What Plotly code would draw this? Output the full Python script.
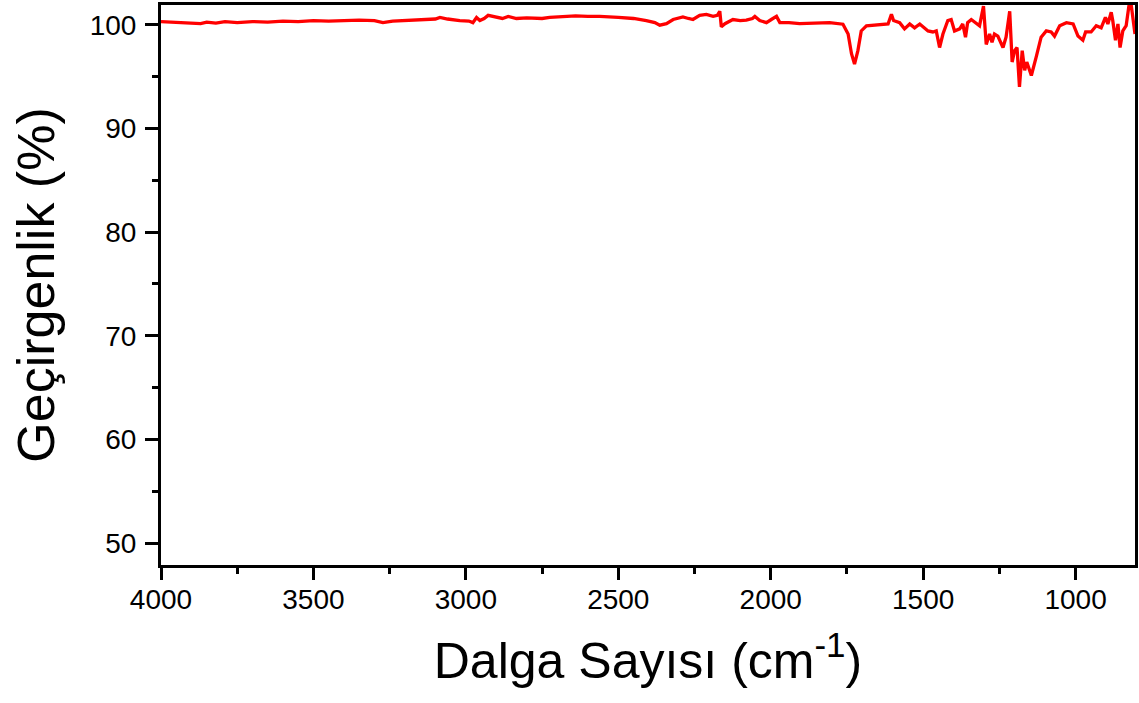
import plotly.graph_objects as go

wavenumber = [
    4000, 3950, 3900, 3870, 3850, 3820, 3790, 3750, 3700, 3650, 3600, 3550, 3500,
    3450, 3400, 3350, 3300, 3272, 3240, 3200, 3150, 3100, 3085, 3060, 3020, 2990,
    2977, 2965, 2954, 2940, 2927, 2899, 2880, 2861, 2834, 2800, 2750, 2725, 2690,
    2670, 2640, 2600, 2561, 2500, 2450, 2408, 2380, 2364, 2342, 2320, 2288, 2270,
    2255, 2233, 2211, 2189, 2175, 2167, 2162, 2150, 2124, 2100, 2080, 2060, 2052,
    2036, 2014, 1998, 1981, 1970, 1940, 1905, 1850, 1807, 1763, 1746, 1735, 1725,
    1714, 1703, 1686, 1653, 1615, 1604, 1597, 1577, 1561, 1544, 1528, 1511, 1484,
    1468, 1457, 1446, 1435, 1419, 1408, 1397, 1380, 1370, 1361, 1354, 1342, 1315,
    1302, 1293, 1282, 1274, 1266, 1255, 1238, 1228, 1216, 1208, 1200, 1192, 1184,
    1175, 1167, 1160, 1145, 1129, 1113, 1096, 1080, 1069, 1052, 1030, 1008, 992,
    976, 967, 949, 932, 916, 902, 894, 883, 878, 869, 861, 854, 845, 834, 825,
    817, 805,
]
transmittance = [
    100.3, 100.25, 100.2, 100.1, 100.25, 100.15, 100.3, 100.2, 100.3, 100.25, 100.35, 100.3, 100.4,
    100.35, 100.4, 100.45, 100.4, 100.2, 100.35, 100.4, 100.45, 100.55, 100.7, 100.55, 100.4, 100.35,
    100.2, 100.7, 100.4, 100.6, 100.9, 100.7, 100.6, 100.8, 100.6, 100.65, 100.6, 100.7, 100.75,
    100.85, 100.85, 100.8, 100.8, 100.7, 100.6, 100.4, 100.2, 99.95, 100.1, 100.5, 100.75, 100.6,
    100.5, 100.9, 101.0, 100.8, 100.9, 101.3, 99.8, 100.1, 100.5, 100.4, 100.45, 100.6, 100.8,
    100.4, 100.2, 100.5, 100.8, 100.2, 100.2, 100.1, 100.2, 100.2, 100.05, 99.1, 97.2, 96.2,
    97.5, 99.4, 99.9, 100.0, 100.07, 101.0, 100.4, 100.2, 99.6, 100.07, 99.7, 100.07, 99.4,
    99.3, 99.4, 97.8, 99.1, 100.4, 100.5, 99.4, 99.6, 100.07, 98.8, 100.2, 100.5, 99.9,
    101.8, 98.1, 99.1, 98.3, 99.1, 98.9, 97.8, 98.8, 101.3, 96.4, 97.5, 97.8, 94.0,
    97.5, 95.6, 96.4, 95.1, 96.9, 98.8, 99.4, 99.3, 98.9, 99.9, 100.2, 100.07, 98.9,
    98.5, 99.3, 99.3, 99.9, 99.7, 100.7, 100.07, 101.2, 100.4, 98.5, 100.07, 97.8, 99.4, 99.9, 101.8,
    101.8, 99.1,
]

x_ticks = [4000, 3500, 3000, 2500, 2000, 1500, 1000]
y_ticks = [50, 60, 70, 80, 90, 100]

fig = go.Figure()
fig.add_trace(go.Scatter(
    x=wavenumber, y=transmittance, mode="lines",
    line=dict(color="#FF0000", width=3.3),
    showlegend=False,
))

font_family = "Liberation Sans, Arial, sans-serif"

fig.update_layout(
    width=1139, height=703,
    margin=dict(l=161, r=4, t=5, b=138, autoexpand=False),
    paper_bgcolor="white", plot_bgcolor="white",
    font=dict(family=font_family, color="black"),
)
fig.update_xaxes(
    range=[4000, 805],
    tickvals=x_ticks,
    automargin=False,
    ticks="outside", ticklen=12, tickwidth=2.5, tickcolor="black",
    ticklabelstandoff=-5,
    minor=dict(ticks="outside", ticklen=6, tickwidth=2.5, tickcolor="black", dtick=250, tick0=0, showgrid=False),
    showline=True, linewidth=3, linecolor="black", mirror=True,
    showgrid=False, zeroline=False,
    tickfont=dict(size=28, family=font_family, color="black"),
    title=dict(text="Dalga Sayısı (cm<sup>-1</sup>)", font=dict(size=50, family=font_family, color="black"), standoff=30),
)
fig.update_yaxes(
    range=[47.9, 101.9],
    tickvals=y_ticks,
    automargin=False,
    ticks="outside", ticklen=13, tickwidth=2.5, tickcolor="black",
    ticklabelstandoff=3,
    minor=dict(ticks="outside", ticklen=6, tickwidth=2.5, tickcolor="black", dtick=5, tick0=0, showgrid=False),
    showline=True, linewidth=3, linecolor="black", mirror=True,
    showgrid=False, zeroline=False,
    tickfont=dict(size=28, family=font_family, color="black"),
    title=dict(text="Geçirgenlik (%)", font=dict(size=52, family=font_family, color="black"), standoff=19),
)

fig.write_html(
    "out.html",
    config={"displayModeBar": False},
    post_script="document.body.style.margin='0px';",
)
